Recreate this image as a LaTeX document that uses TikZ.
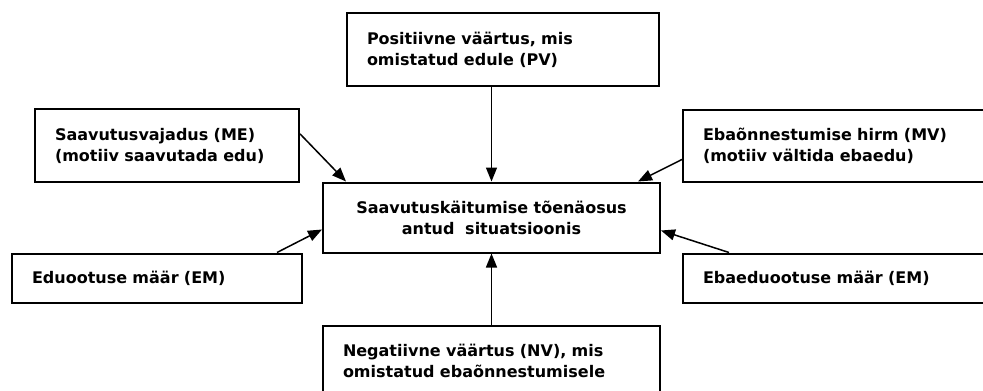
\documentclass[tikz,border=0pt]{standalone}
\usepackage{fontspec}
\setmainfont{DejaVu Sans}
\usetikzlibrary{arrows.meta}

\begin{document}
\begin{tikzpicture}[x=1pt,y=-1pt,
	box/.style={draw, line width=2pt, align=left, inner xsep=20pt, inner ysep=0pt, font=\bfseries\fontsize{16}{21}\selectfont},
	arr/.style={-{Triangle[length=14pt,width=11pt]}, line width=1.5pt}]
	\useasboundingbox (0,0) rectangle (983,391);
	%Centre
	\node[box, align=center, text width=297pt, minimum height=70pt] (tv) at (491.5,217.5) {Saavutuskäitumise tõenäosus\\antud~~situatsioonis};
	%PV
	\node[box, text width=272pt, minimum height=73pt] (pv) at (503,49.5) {Positiivne väärtus, mis\\omistatud edule (PV)};
	%ME
	\node[box, text width=224pt, minimum height=73pt] (me) at (167,145.5) {Saavutusvajadus (ME)\\(motiiv saavutada edu)};
	%MV
	\node[box, text width=277pt, minimum height=72pt] (mv) at (841.5,145.5) {Ebaõnnestumise hirm (MV)\\(motiiv vältida ebaedu)};
	%EM left
	\node[box, text width=250pt, minimum height=49pt] (em) at (157,278) {Eduootuse määr (EM)};
	%EM right
	\node[box, text width=277pt, minimum height=49pt] (eem) at (841.5,278) {Ebaeduootuse määr (EM)};
	%NV
	\node[box, text width=297pt, minimum height=70pt] (nv) at (491.5,361) {Negatiivne väärtus (NV), mis\\omistatud ebaõnnestumisele};

	%Arrows
	\draw[arr] (tv.north |- pv.south) -- (tv.north);
	\draw[arr] (me.5) -- ([xshift=24pt]tv.north west);
	\draw[arr] (mv.185) -- ([xshift=-23pt]tv.north east);
	\draw[arr] ([xshift=-26pt]em.north east) -- ([yshift=-12pt]tv.west);
	\draw[arr] ([xshift=47pt]eem.north west) -- ([yshift=-13pt]tv.east);
	\draw[arr] (nv.north) -- (tv.south);
\end{tikzpicture}
\end{document}
